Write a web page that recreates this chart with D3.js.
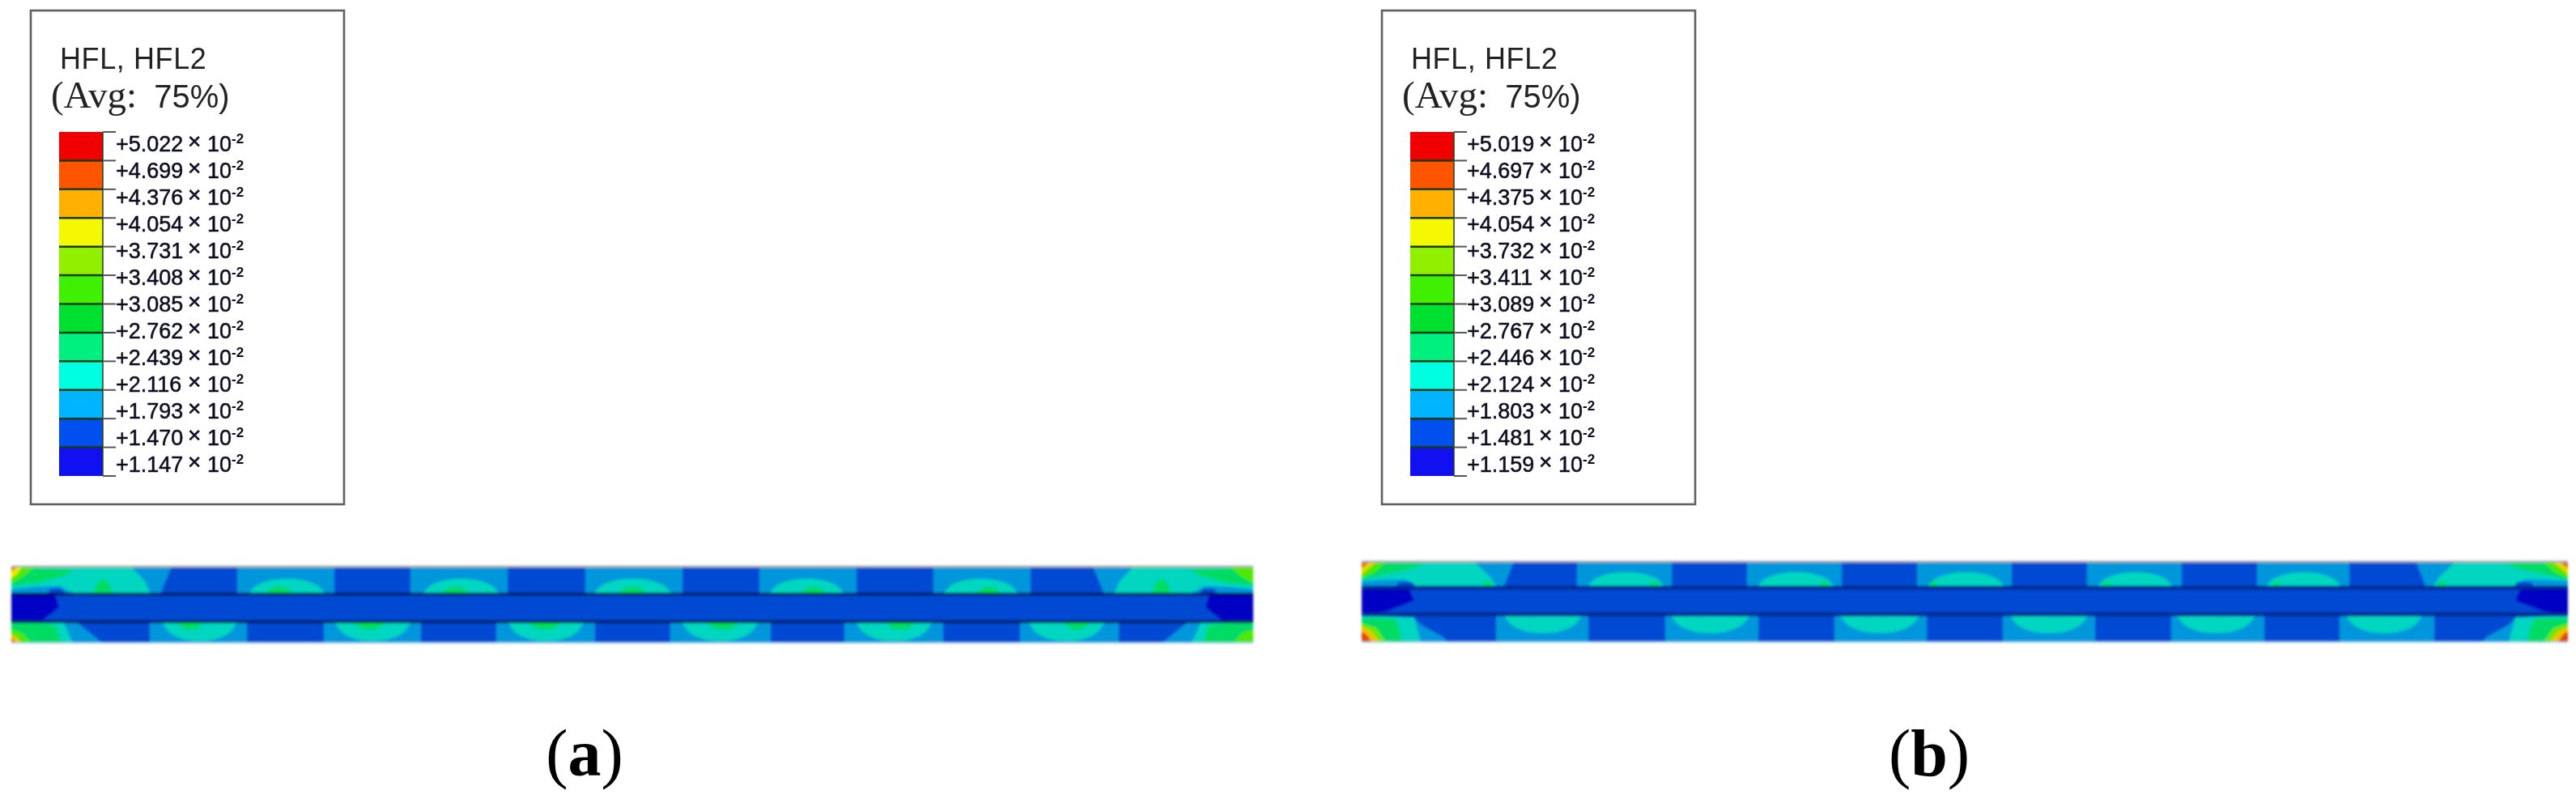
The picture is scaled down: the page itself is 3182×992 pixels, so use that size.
<!DOCTYPE html>
<html><head><meta charset="utf-8">
<script src="https://cdn.jsdelivr.net/npm/d3@7"></script>
<style>html,body{margin:0;background:#fff}svg{display:block}</style></head>
<body><div id="c"></div>
<script>
// contour level colours (low to high)
const levelColors = ["#1010f0","#0050f0","#00b4ff","#00ffe0","#00f080","#00e030","#40f000","#90f000","#f4f800","#ffb000","#ff5500","#f00000"];
const labelsA = ["+5.022","+4.699","+4.376","+4.054","+3.731","+3.408","+3.085","+2.762","+2.439","+2.116","+1.793","+1.470","+1.147"];
const labelsB = ["+5.019","+4.697","+4.375","+4.054","+3.732","+3.411","+3.089","+2.767","+2.446","+2.124","+1.803","+1.481","+1.159"];

// Field colours as they appear in the strips
const fieldBase = "#0048d2", fieldBlock = "#0096dc", fieldTeal = "#00d6c0", fieldGreen = "#00dc64", fieldDeep = "#0000c4";

// Panel (a): extents of contour patches along the strip, model units
const topBlocksA = [[279,399],[493,613],[709,829],[924,1044],[1139,1259]];
const topTealA = [[293,388],[508,603],[719,816],[936,1029],[1151,1244]];
const topGreenA = [[314,348],[531,566],[750,785],[976,1006],[1193,1221]];
const botBlocksA = [[171,291],[386,506],[599,721],[814,938],[1029,1151],[1246,1368]];
const botTealA = [[186,279],[399,494],[613,708],[828,923],[1043,1138],[1256,1351]];
const botGreenA = [[206,236],[423,461],[639,679],[859,898],[1081,1116],[1301,1331]];
// Panel (b)
const topBlocksB = [[266,383],[476,593],[686,803],[896,1013],[1106,1220]];
const topTealB = [[278,375],[488,585],[698,795],[908,1003],[1116,1211]];
const topGreenB = [[355,368],[565,578],[700,712],[915,925],[1125,1135]];
const botBlocksB = [[166,280],[375,490],[584,698],[792,906],[1000,1115],[1208,1325]];
const botTealB = [[175,273],[381,480],[590,690],[800,898],[1006,1105],[1215,1311]];
const botGreenB = [];

// End-zone contour polygons: [colour, [x,y]...] in model units from the strip end
const endZoneA = [
 ["#0096dc",[[0,0],[198,0],[184,34],[0,34]]],
 ["#00d6c0",[[0,1],[149,1],[165,18],[172,34],[79,34],[60,24],[30,25],[0,28]]],
 ["#0048d2",[[43,34],[49,27],[61,27],[68,34]]],
 ["#00dc64",[[0,1],[79,4],[63,12],[33,20],[3,23],[0,23]]],
 ["#00dc64",[[101,34],[106,20],[113,15],[120,20],[126,34]]],
 ["#50e800",[[0,1],[28,1],[12,14],[0,20]]],
 ["#f0e800",[[0,1],[13,1],[6,10],[0,14]]],
 ["#e06000",[[0,0],[7,0],[0,6]]],
 ["#0096dc",[[60,68],[80,68],[100,84],[112,94],[70,94]]],
 ["#00d6c0",[[0,68],[64,68],[76,94],[0,94]]],
 ["#00dc64",[[0,70],[36,70],[56,73],[61,94],[0,94]]],
 ["#50e800",[[0,78],[14,82],[24,94],[0,94]]],
 ["#f0c000",[[0,84],[8,88],[12,94],[0,94]]],
 ["#e06000",[[0,89],[6,94],[0,94]]]
];
const endZoneB = [
 ["#0096dc",[[0,0],[188,0],[175,32],[0,32]]],
 ["#00d6c0",[[0,1],[140,1],[158,18],[168,32],[68,32],[55,22],[30,22],[0,24]]],
 ["#0048d2",[[41,32],[46,25],[62,25],[68,32]]],
 ["#00dc64",[[0,2],[78,2],[60,9],[35,14],[0,22]]],
 ["#00dc64",[[148,32],[152,24],[158,24],[165,32]]],
 ["#50e800",[[0,1],[30,1],[14,14],[0,20]]],
 ["#f0d000",[[0,1],[18,1],[7,9],[0,16]]],
 ["#e06000",[[0,0],[10,0],[0,8]]],
 ["#0096dc",[[60,66],[75,79],[101,93],[105,99],[65,99]]],
 ["#00d6c0",[[0,66],[65,69],[73,99],[0,99]]],
 ["#00dc64",[[0,70],[40,70],[46,80],[50,99],[0,99]]],
 ["#70e800",[[0,76],[18,82],[30,99],[0,99]]],
 ["#f0c000",[[0,80],[12,86],[22,99],[0,99]]],
 ["#e04000",[[0,86],[6,90],[12,99],[0,99]]]
];
const webDeepA = [[0,34],[54,34],[59,50],[39,66],[0,66]];
const webDeepB = [[0,32],[58,32],[65,48],[31,61],[0,66]];

const W = 3182, H = 992;
const svg = d3.select("#c").append("svg").attr("width",W).attr("height",H).attr("viewBox",[0,0,W,H]);
const defs = svg.append("defs");
defs.append("filter").attr("id","b1").attr("x","-2%").attr("y","-10%").attr("width","104%").attr("height","120%")
  .append("feGaussianBlur").attr("stdDeviation",1.4);
defs.append("filter").attr("id","b0").append("feGaussianBlur").attr("stdDeviation",0.5);

function legend(dx, labels){
  const g = svg.append("g").attr("transform",`translate(${dx},0)`);
  g.append("rect").attr("x",38).attr("y",13).attr("width",387).attr("height",610)
    .attr("fill","#fff").attr("stroke","#606060").attr("stroke-width",2.6);
  const t = g.append("g").attr("filter","url(#b0)");
  t.append("text").attr("x",74).attr("y",85).attr("font-family","Liberation Sans").attr("font-size",36).attr("letter-spacing",0.6).attr("fill","#222").text("HFL, HFL2");
  const a = t.append("text").attr("x",63).attr("y",133).attr("fill","#222");
  a.append("tspan").attr("font-family","Liberation Serif").attr("font-size",47).text("(Avg:");
  a.append("tspan").attr("font-family","Liberation Sans").attr("font-size",40).attr("dx",21).text("75%)");

  const yTick = d3.scalePoint().domain(labels).range([163,588]);
  const yLabel = d3.scalePoint().domain(labels).range([187,583]);
  const segs = d3.pairs(labels);
  g.selectAll("rect.seg").data(segs).join("rect").attr("class","seg")
    .attr("x",73).attr("width",54)
    .attr("y",d=>yTick(d[0])).attr("height",d=>yTick(d[1])-yTick(d[0]))
    .attr("fill",(d,i)=>levelColors[levelColors.length-1-i]);
  g.selectAll("line.sep").data(labels.slice(1,-1)).join("line").attr("class","sep")
    .attr("x1",73).attr("x2",127).attr("y1",yTick).attr("y2",yTick).attr("stroke","#1c3a10").attr("stroke-width",2.5);
  g.append("line").attr("x1",127).attr("x2",127).attr("y1",163).attr("y2",588).attr("stroke","#23401c").attr("stroke-width",1.5);
  g.selectAll("line.tick").data(labels).join("line").attr("class","tick")
    .attr("x1",127).attr("x2",143).attr("y1",yTick).attr("y2",yTick).attr("stroke","#555").attr("stroke-width",2);
  const row = t.selectAll("g.row").data(labels).join("g").attr("class","row")
    .attr("transform",d=>`translate(0,${yLabel(d)})`).attr("font-family","Liberation Sans").attr("fill","#0a0a20");
  row.append("text").attr("x",143).attr("font-size",27).attr("stroke","#0a0a20").attr("stroke-width",0.5).text(d=>d);
  row.append("text").attr("x",232).attr("font-size",28).attr("y",-3).attr("stroke","#0a0a20").attr("stroke-width",0.6).text("×");
  row.append("text").attr("x",256).attr("font-size",27).attr("stroke","#0a0a20").attr("stroke-width",0.5).text("10");
  row.append("text").attr("x",286).attr("y",-10).attr("font-size",17).attr("font-weight","bold").text("-2");
}

function strip(cfg){
  const x = d3.scaleLinear().domain([0,cfg.L]).range([cfg.x0,cfg.x1]);
  const y = d3.scaleLinear().domain([0,cfg.D]).range([cfg.y0,cfg.y1]);
  const line = d3.line().x(d=>x(d[0])).y(d=>y(d[1]));
  const smooth = d3.line().x(d=>x(d[0])).y(d=>y(d[1])).curve(d3.curveCatmullRom);
  const g = svg.append("g").attr("filter","url(#b1)");
  g.append("rect").attr("x",x(0)).attr("y",y(0)).attr("width",x(cfg.L)-x(0)).attr("height",y(cfg.D)-y(0)).attr("fill",fieldBase);
  const block=(e,y0,y1,s)=>[[e[0]+s,y0],[e[1]-s,y0],[e[1],y1],[e[0],y1]];
  const dome=(e,b,a)=>{const w=e[1]-e[0];return [[e[0],b],[e[0]+w*.1,b+(a-b)*.55],[e[0]+w*.28,b+(a-b)*.9],[e[0]+w*.5,a],[e[0]+w*.72,b+(a-b)*.9],[e[0]+w*.9,b+(a-b)*.55],[e[1],b]];};
  cfg.topBlocks.forEach(e=>g.append("path").attr("d",line(block(e,0,cfg.webTop,0))+"Z").attr("fill",fieldBlock));
  cfg.botBlocks.forEach(e=>g.append("path").attr("d",line(block(e,cfg.webBot,cfg.D,0))+"Z").attr("fill",fieldBlock));
  cfg.topTeal.forEach(e=>g.append("path").attr("d",smooth(dome(e,cfg.webTop,cfg.tealTop))+"Z").attr("fill",fieldTeal));
  cfg.botTeal.forEach(e=>g.append("path").attr("d",smooth(dome(e,cfg.webBot,cfg.tealBot))+"Z").attr("fill",fieldTeal));
  cfg.topGreen.forEach(e=>g.append("path").attr("d",smooth(dome(e,cfg.webTop,cfg.greenTop))+"Z").attr("fill",fieldGreen));
  cfg.botGreen.forEach(e=>g.append("path").attr("d",smooth(dome(e,cfg.webBot,cfg.greenBot))+"Z").attr("fill",fieldGreen));
  cfg.end.forEach(p=>{
    g.append("path").attr("d",line(p[1])+"Z").attr("fill",p[0]);
    const right = cfg.hotRight || !/^#(f0|e0)/.test(p[0]);
    g.append("path").attr("d",line(p[1].map(q=>[cfg.L-q[0],q[1]]))+"Z").attr("fill",right?p[0]:"#50e800");
  });
  g.append("path").attr("d",line(cfg.deep)+"Z").attr("fill",fieldDeep);
  g.append("path").attr("d",line(cfg.deep.map(q=>[cfg.L-q[0],q[1]]))+"Z").attr("fill",fieldDeep);
  [cfg.webTop,cfg.webBot].forEach(v=>g.append("line").attr("x1",x(0)).attr("x2",x(cfg.L)).attr("y1",y(v)).attr("y2",y(v)).attr("stroke",cfg.lineColor).attr("stroke-width",cfg.lineW));
  g.append("line").attr("x1",x(0)).attr("x2",x(cfg.L)).attr("y1",y(0)).attr("y2",y(0)).attr("stroke",cfg.topLine).attr("stroke-width",2.5);
  g.append("line").attr("x1",x(0)).attr("x2",x(cfg.L)).attr("y1",y(cfg.D)).attr("y2",y(cfg.D)).attr("stroke","#8cc8e8").attr("stroke-width",1.5);
}

legend(0,labelsA);
legend(1669,labelsB);
strip({L:1534,D:94,x0:14,x1:1548,y0:700,y1:794,webTop:34,webBot:68,tealTop:15,tealBot:92,greenTop:25,greenBot:78,
  topBlocks:topBlocksA,topTeal:topTealA,topGreen:topGreenA,botBlocks:botBlocksA,botTeal:botTealA,botGreen:botGreenA,
  end:endZoneA,deep:webDeepA,hotRight:false,lineColor:"#00103c",lineW:3,topLine:"#a8b0a8"});
strip({L:1490,D:99,x0:1682,x1:3172,y0:694,y1:793,webTop:32,webBot:65,tealTop:13,tealBot:88,greenTop:24,greenBot:75,
  topBlocks:topBlocksB,topTeal:topTealB,topGreen:topGreenB,botBlocks:botBlocksB,botTeal:botTealB,botGreen:botGreenB,
  end:endZoneB,deep:webDeepB,hotRight:true,lineColor:"#00288c",lineW:4.5,topLine:"#a0a8b0"});

[["a",722],["b",2383]].forEach(([c,cx])=>{
  const t = svg.append("text").attr("x",cx).attr("y",958).attr("text-anchor","middle")
    .attr("font-family","Liberation Serif").attr("font-size",82).attr("fill","#000");
  t.append("tspan").text("(");
  t.append("tspan").attr("font-weight","bold").text(c);
  t.append("tspan").text(")");
});
</script></body></html>
